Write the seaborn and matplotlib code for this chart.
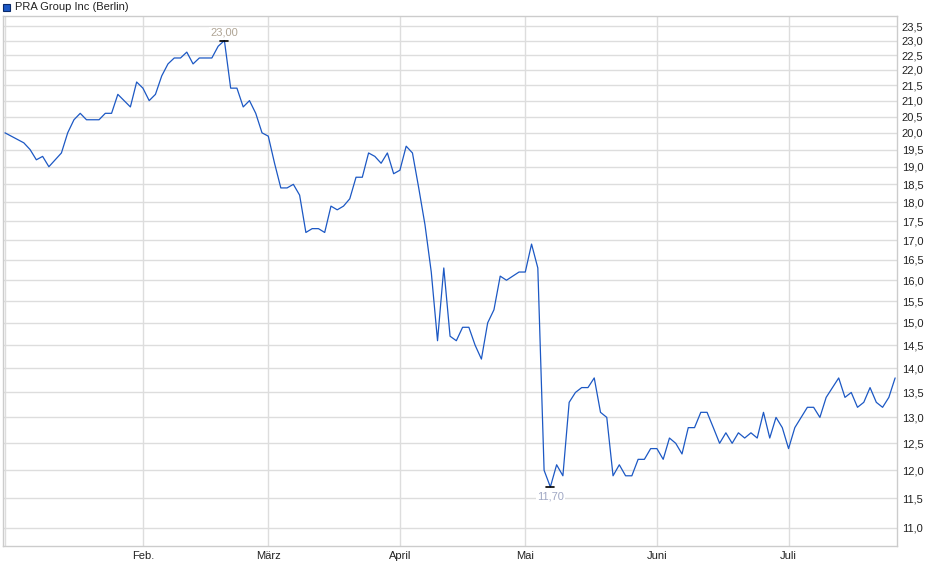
import matplotlib
matplotlib.use("Agg")
import matplotlib.pyplot as plt
import matplotlib.ticker as mticker
from matplotlib.patches import Rectangle
import seaborn as sns
import pandas as pd
import numpy as np

# ---- data (EUR, Berlin, trading days 2025) ----
title = "PRA Group Inc (Berlin)"
start_date = "2025-01-02"
end_date = "2025-07-24"
holidays = ["2025-04-18", "2025-04-21", "2025-05-01"]
month_names = ["", "Feb.", "März", "April", "Mai", "Juni", "Juli"]
prices = [
    20.0, 19.9, 19.8, 19.7, 19.5, 19.2, 19.3, 19.0, 19.2, 19.4,
    20.0, 20.4, 20.6, 20.4, 20.4, 20.4, 20.6, 20.6, 21.2, 21.0,
    20.8, 21.6, 21.4, 21.0, 21.2, 21.8, 22.2, 22.4, 22.4, 22.6,
    22.2, 22.4, 22.4, 22.4, 22.8, 23.0, 21.4, 21.4, 20.8, 21.0,
    20.6, 20.0, 19.9, 19.1, 18.4, 18.4, 18.5, 18.2, 17.2, 17.3,
    17.3, 17.2, 17.9, 17.8, 17.9, 18.1, 18.7, 18.7, 19.4, 19.3,
    19.1, 19.4, 18.8, 18.9, 19.6, 19.4, 18.4, 17.4, 16.2, 14.6,
    16.3, 14.7, 14.6, 14.9, 14.9, 14.5, 14.2, 15.0, 15.3, 16.1,
    16.0, 16.1, 16.2, 16.2, 16.9, 16.3, 12.0, 11.7, 12.1, 11.9,
    13.3, 13.5, 13.6, 13.6, 13.8, 13.1, 13.0, 11.9, 12.1, 11.9,
    11.9, 12.2, 12.2, 12.4, 12.4, 12.2, 12.6, 12.5, 12.3, 12.8,
    12.8, 13.1, 13.1, 12.8, 12.5, 12.7, 12.5, 12.7, 12.6, 12.7,
    12.6, 13.1, 12.6, 13.0, 12.8, 12.4, 12.8, 13.0, 13.2, 13.2,
    13.0, 13.4, 13.6, 13.8, 13.4, 13.5, 13.2, 13.3, 13.6, 13.3,
    13.2, 13.4, 13.8,
]
y_ticks = [11.0, 11.5, 12.0, 12.5, 13.0, 13.5, 14.0, 14.5, 15.0, 15.5, 16.0,
           16.5, 17.0, 17.5, 18.0, 18.5, 19.0, 19.5, 20.0, 20.5, 21.0, 21.5,
           22.0, 22.5, 23.0, 23.5]

dates = pd.bdate_range(start_date, end_date)
dates = dates[~dates.isin(pd.to_datetime(holidays))]
df = pd.DataFrame({"date": dates[:len(prices)], "price": prices})
df["idx"] = np.arange(len(df))

# first trading day of each month
month_first = df.groupby(df["date"].dt.month)["idx"].min().tolist()

sns.set_style("white")
plt.rcParams["font.family"] = ["Liberation Sans", "DejaVu Sans"]

fig = plt.figure(figsize=(9.4, 5.79), dpi=100)
ax = fig.add_axes([3 / 940, 1 - 546 / 579, 894 / 940, 530 / 579])

line_color = "#1c58c4"
sns.lineplot(data=df, x="idx", y="price", ax=ax, color=line_color,
             linewidth=0.9, zorder=3)

ax.set_yscale("log")
ax.set_ylim(10.70, 23.87)
ax.set_xlim(-0.32, 142.3)

ax.yaxis.set_major_locator(mticker.FixedLocator(y_ticks))
ax.yaxis.set_minor_locator(mticker.NullLocator())
ax.yaxis.set_major_formatter(
    mticker.FuncFormatter(lambda v, p: f"{v:.1f}".replace(".", ",")))
ax.yaxis.tick_right()
ax.tick_params(axis="y", length=0, pad=3.5, labelsize=8, labelcolor="#222222")

ax.set_xticks(month_first)
ax.set_xticklabels(month_names[:len(month_first)])
ax.tick_params(axis="x", length=3, width=1, color="#cccccc", pad=0.5,
               labelsize=8, labelcolor="#222222")

ax.grid(True, color="#dddddd", linewidth=1.0)
ax.set_axisbelow(True)
for s in ax.spines.values():
    s.set_color("#cccccc")
    s.set_linewidth(1.0)
ax.set_xlabel("")
ax.set_ylabel("")

# max / min markers
imax = int(np.argmax(prices))
imin = int(np.argmin(prices))
vmax = prices[imax]
vmin = prices[imin]
ax.plot([imax - 0.65, imax + 0.65], [vmax, vmax], color="black", lw=1.2, zorder=4)
ax.plot([imin - 0.65, imin + 0.65], [vmin, vmin], color="black", lw=1.2, zorder=4)
ax.annotate(f"{vmax:.2f}".replace(".", ","), (imax, vmax), xytext=(0, 2),
            textcoords="offset points", ha="center", va="bottom",
            fontsize=8, color="#b0a595",
            bbox=dict(boxstyle="square,pad=0.1", fc="white", ec="none"), zorder=5)
ax.annotate(f"{vmin:.2f}".replace(".", ","), (imin, vmin), xytext=(0, -3),
            textcoords="offset points", ha="center", va="top",
            fontsize=8, color="#a0a8c4",
            bbox=dict(boxstyle="square,pad=0.1", fc="white", ec="none"), zorder=5)

# legend-like header
fig.patches.append(Rectangle((3 / 940, 1 - 11 / 579), 7 / 940, 7 / 579,
                             transform=fig.transFigure, facecolor="#1c58c4",
                             edgecolor="#0a2a6a", linewidth=0.8))
fig.text(15 / 940, 1 - 7 / 579, title, ha="left", va="center",
         fontsize=8, color="#222222")

fig.savefig("out.png", dpi=100)
